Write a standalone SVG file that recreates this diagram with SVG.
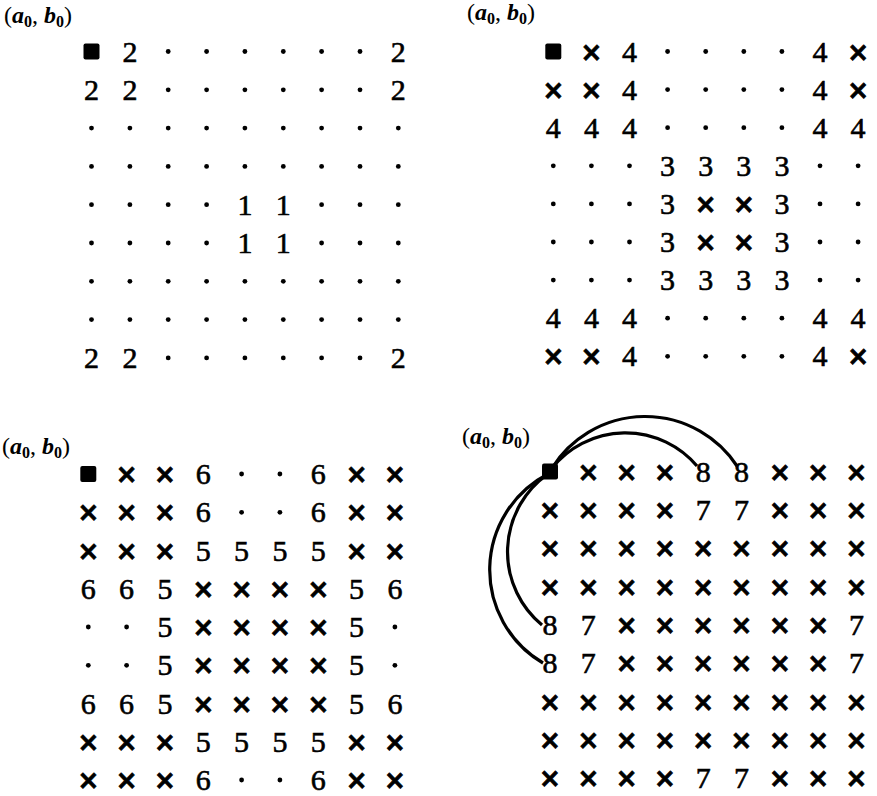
<svg xmlns="http://www.w3.org/2000/svg" xmlns:xlink="http://www.w3.org/1999/xlink" width="877" height="796" viewBox="0 0 877 796">
<style>
.d{font-family:"Liberation Serif",serif;font-size:30px;text-anchor:middle;fill:#000;stroke:#000;stroke-width:0.6px}
.x{font-family:"DejaVu Sans",sans-serif;font-weight:bold;font-size:26px;text-anchor:middle;fill:#000;stroke:#000;stroke-width:0.8px}
.lb{font-family:"Liberation Serif",serif;font-size:24px;fill:#000}
.m{font-style:italic;font-weight:bold}
.s{font-size:16px;font-weight:bold}
.arc{fill:none;stroke:#000;stroke-width:3.2}
</style>
<defs>
<circle id="dot" r="2.4" fill="#000"/>
<rect id="sq" x="-8" y="-8" width="16" height="16" rx="2" fill="#000"/>
</defs>
<rect width="877" height="796" fill="#fff"/>

<g id="panel1">
<text class="lb" x="4" y="23">(<tspan class="m">a</tspan><tspan class="s" dy="4">0</tspan><tspan dy="-4">, </tspan><tspan class="m">b</tspan><tspan class="s" dy="4">0</tspan><tspan dy="-4">)</tspan></text>
<g transform="translate(0,51.5)"><use xlink:href="#sq" x="91.5"/><text class="d" x="129.9" y="10">2</text><use xlink:href="#dot" x="168.2"/><use xlink:href="#dot" x="206.6"/><use xlink:href="#dot" x="244.9"/><use xlink:href="#dot" x="283.3"/><use xlink:href="#dot" x="321.6"/><use xlink:href="#dot" x="360"/><text class="d" x="398.3" y="10">2</text></g>
<g transform="translate(0,89.8)"><text class="d" x="91.5" y="10">2</text><text class="d" x="129.9" y="10">2</text><use xlink:href="#dot" x="168.2"/><use xlink:href="#dot" x="206.6"/><use xlink:href="#dot" x="244.9"/><use xlink:href="#dot" x="283.3"/><use xlink:href="#dot" x="321.6"/><use xlink:href="#dot" x="360"/><text class="d" x="398.3" y="10">2</text></g>
<g transform="translate(0,128.1)"><use xlink:href="#dot" x="91.5"/><use xlink:href="#dot" x="129.9"/><use xlink:href="#dot" x="168.2"/><use xlink:href="#dot" x="206.6"/><use xlink:href="#dot" x="244.9"/><use xlink:href="#dot" x="283.3"/><use xlink:href="#dot" x="321.6"/><use xlink:href="#dot" x="360"/><use xlink:href="#dot" x="398.3"/></g>
<g transform="translate(0,166.4)"><use xlink:href="#dot" x="91.5"/><use xlink:href="#dot" x="129.9"/><use xlink:href="#dot" x="168.2"/><use xlink:href="#dot" x="206.6"/><use xlink:href="#dot" x="244.9"/><use xlink:href="#dot" x="283.3"/><use xlink:href="#dot" x="321.6"/><use xlink:href="#dot" x="360"/><use xlink:href="#dot" x="398.3"/></g>
<g transform="translate(0,204.7)"><use xlink:href="#dot" x="91.5"/><use xlink:href="#dot" x="129.9"/><use xlink:href="#dot" x="168.2"/><use xlink:href="#dot" x="206.6"/><text class="d" x="244.9" y="10">1</text><text class="d" x="283.3" y="10">1</text><use xlink:href="#dot" x="321.6"/><use xlink:href="#dot" x="360"/><use xlink:href="#dot" x="398.3"/></g>
<g transform="translate(0,243)"><use xlink:href="#dot" x="91.5"/><use xlink:href="#dot" x="129.9"/><use xlink:href="#dot" x="168.2"/><use xlink:href="#dot" x="206.6"/><text class="d" x="244.9" y="10">1</text><text class="d" x="283.3" y="10">1</text><use xlink:href="#dot" x="321.6"/><use xlink:href="#dot" x="360"/><use xlink:href="#dot" x="398.3"/></g>
<g transform="translate(0,281.3)"><use xlink:href="#dot" x="91.5"/><use xlink:href="#dot" x="129.9"/><use xlink:href="#dot" x="168.2"/><use xlink:href="#dot" x="206.6"/><use xlink:href="#dot" x="244.9"/><use xlink:href="#dot" x="283.3"/><use xlink:href="#dot" x="321.6"/><use xlink:href="#dot" x="360"/><use xlink:href="#dot" x="398.3"/></g>
<g transform="translate(0,319.6)"><use xlink:href="#dot" x="91.5"/><use xlink:href="#dot" x="129.9"/><use xlink:href="#dot" x="168.2"/><use xlink:href="#dot" x="206.6"/><use xlink:href="#dot" x="244.9"/><use xlink:href="#dot" x="283.3"/><use xlink:href="#dot" x="321.6"/><use xlink:href="#dot" x="360"/><use xlink:href="#dot" x="398.3"/></g>
<g transform="translate(0,357.9)"><text class="d" x="91.5" y="10">2</text><text class="d" x="129.9" y="10">2</text><use xlink:href="#dot" x="168.2"/><use xlink:href="#dot" x="206.6"/><use xlink:href="#dot" x="244.9"/><use xlink:href="#dot" x="283.3"/><use xlink:href="#dot" x="321.6"/><use xlink:href="#dot" x="360"/><text class="d" x="398.3" y="10">2</text></g>
</g>

<g id="panel2">
<text class="lb" x="467" y="19.5">(<tspan class="m">a</tspan><tspan class="s" dy="4">0</tspan><tspan dy="-4">, </tspan><tspan class="m">b</tspan><tspan class="s" dy="4">0</tspan><tspan dy="-4">)</tspan></text>
<g transform="translate(0,51.5)"><use xlink:href="#sq" x="553.3"/><text class="x" x="591.4" y="9">×</text><text class="d" x="629.5" y="10">4</text><use xlink:href="#dot" x="667.6"/><use xlink:href="#dot" x="705.7"/><use xlink:href="#dot" x="743.8"/><use xlink:href="#dot" x="781.9"/><text class="d" x="820" y="10">4</text><text class="x" x="858.1" y="9">×</text></g>
<g transform="translate(0,89.6)"><text class="x" x="553.3" y="9">×</text><text class="x" x="591.4" y="9">×</text><text class="d" x="629.5" y="10">4</text><use xlink:href="#dot" x="667.6"/><use xlink:href="#dot" x="705.7"/><use xlink:href="#dot" x="743.8"/><use xlink:href="#dot" x="781.9"/><text class="d" x="820" y="10">4</text><text class="x" x="858.1" y="9">×</text></g>
<g transform="translate(0,127.7)"><text class="d" x="553.3" y="10">4</text><text class="d" x="591.4" y="10">4</text><text class="d" x="629.5" y="10">4</text><use xlink:href="#dot" x="667.6"/><use xlink:href="#dot" x="705.7"/><use xlink:href="#dot" x="743.8"/><use xlink:href="#dot" x="781.9"/><text class="d" x="820" y="10">4</text><text class="d" x="858.1" y="10">4</text></g>
<g transform="translate(0,165.8)"><use xlink:href="#dot" x="553.3"/><use xlink:href="#dot" x="591.4"/><use xlink:href="#dot" x="629.5"/><text class="d" x="667.6" y="10">3</text><text class="d" x="705.7" y="10">3</text><text class="d" x="743.8" y="10">3</text><text class="d" x="781.9" y="10">3</text><use xlink:href="#dot" x="820"/><use xlink:href="#dot" x="858.1"/></g>
<g transform="translate(0,203.9)"><use xlink:href="#dot" x="553.3"/><use xlink:href="#dot" x="591.4"/><use xlink:href="#dot" x="629.5"/><text class="d" x="667.6" y="10">3</text><text class="x" x="705.7" y="9">×</text><text class="x" x="743.8" y="9">×</text><text class="d" x="781.9" y="10">3</text><use xlink:href="#dot" x="820"/><use xlink:href="#dot" x="858.1"/></g>
<g transform="translate(0,242)"><use xlink:href="#dot" x="553.3"/><use xlink:href="#dot" x="591.4"/><use xlink:href="#dot" x="629.5"/><text class="d" x="667.6" y="10">3</text><text class="x" x="705.7" y="9">×</text><text class="x" x="743.8" y="9">×</text><text class="d" x="781.9" y="10">3</text><use xlink:href="#dot" x="820"/><use xlink:href="#dot" x="858.1"/></g>
<g transform="translate(0,280.1)"><use xlink:href="#dot" x="553.3"/><use xlink:href="#dot" x="591.4"/><use xlink:href="#dot" x="629.5"/><text class="d" x="667.6" y="10">3</text><text class="d" x="705.7" y="10">3</text><text class="d" x="743.8" y="10">3</text><text class="d" x="781.9" y="10">3</text><use xlink:href="#dot" x="820"/><use xlink:href="#dot" x="858.1"/></g>
<g transform="translate(0,318.2)"><text class="d" x="553.3" y="10">4</text><text class="d" x="591.4" y="10">4</text><text class="d" x="629.5" y="10">4</text><use xlink:href="#dot" x="667.6"/><use xlink:href="#dot" x="705.7"/><use xlink:href="#dot" x="743.8"/><use xlink:href="#dot" x="781.9"/><text class="d" x="820" y="10">4</text><text class="d" x="858.1" y="10">4</text></g>
<g transform="translate(0,356.3)"><text class="x" x="553.3" y="9">×</text><text class="x" x="591.4" y="9">×</text><text class="d" x="629.5" y="10">4</text><use xlink:href="#dot" x="667.6"/><use xlink:href="#dot" x="705.7"/><use xlink:href="#dot" x="743.8"/><use xlink:href="#dot" x="781.9"/><text class="d" x="820" y="10">4</text><text class="x" x="858.1" y="9">×</text></g>
</g>

<g id="panel3">
<text class="lb" x="2" y="454">(<tspan class="m">a</tspan><tspan class="s" dy="4">0</tspan><tspan dy="-4">, </tspan><tspan class="m">b</tspan><tspan class="s" dy="4">0</tspan><tspan dy="-4">)</tspan></text>
<g transform="translate(0,474)"><use xlink:href="#sq" x="88.3"/><text class="x" x="126.6" y="9">×</text><text class="x" x="164.9" y="9">×</text><text class="d" x="203.3" y="10">6</text><use xlink:href="#dot" x="241.6"/><use xlink:href="#dot" x="279.9"/><text class="d" x="318.3" y="10">6</text><text class="x" x="356.6" y="9">×</text><text class="x" x="394.9" y="9">×</text></g>
<g transform="translate(0,512.3)"><text class="x" x="88.3" y="9">×</text><text class="x" x="126.6" y="9">×</text><text class="x" x="164.9" y="9">×</text><text class="d" x="203.3" y="10">6</text><use xlink:href="#dot" x="241.6"/><use xlink:href="#dot" x="279.9"/><text class="d" x="318.3" y="10">6</text><text class="x" x="356.6" y="9">×</text><text class="x" x="394.9" y="9">×</text></g>
<g transform="translate(0,550.5)"><text class="x" x="88.3" y="9">×</text><text class="x" x="126.6" y="9">×</text><text class="x" x="164.9" y="9">×</text><text class="d" x="203.3" y="10">5</text><text class="d" x="241.6" y="10">5</text><text class="d" x="279.9" y="10">5</text><text class="d" x="318.3" y="10">5</text><text class="x" x="356.6" y="9">×</text><text class="x" x="394.9" y="9">×</text></g>
<g transform="translate(0,588.8)"><text class="d" x="88.3" y="10">6</text><text class="d" x="126.6" y="10">6</text><text class="d" x="164.9" y="10">5</text><text class="x" x="203.3" y="9">×</text><text class="x" x="241.6" y="9">×</text><text class="x" x="279.9" y="9">×</text><text class="x" x="318.3" y="9">×</text><text class="d" x="356.6" y="10">5</text><text class="d" x="394.9" y="10">6</text></g>
<g transform="translate(0,627)"><use xlink:href="#dot" x="88.3"/><use xlink:href="#dot" x="126.6"/><text class="d" x="164.9" y="10">5</text><text class="x" x="203.3" y="9">×</text><text class="x" x="241.6" y="9">×</text><text class="x" x="279.9" y="9">×</text><text class="x" x="318.3" y="9">×</text><text class="d" x="356.6" y="10">5</text><use xlink:href="#dot" x="394.9"/></g>
<g transform="translate(0,665.3)"><use xlink:href="#dot" x="88.3"/><use xlink:href="#dot" x="126.6"/><text class="d" x="164.9" y="10">5</text><text class="x" x="203.3" y="9">×</text><text class="x" x="241.6" y="9">×</text><text class="x" x="279.9" y="9">×</text><text class="x" x="318.3" y="9">×</text><text class="d" x="356.6" y="10">5</text><use xlink:href="#dot" x="394.9"/></g>
<g transform="translate(0,703.5)"><text class="d" x="88.3" y="10">6</text><text class="d" x="126.6" y="10">6</text><text class="d" x="164.9" y="10">5</text><text class="x" x="203.3" y="9">×</text><text class="x" x="241.6" y="9">×</text><text class="x" x="279.9" y="9">×</text><text class="x" x="318.3" y="9">×</text><text class="d" x="356.6" y="10">5</text><text class="d" x="394.9" y="10">6</text></g>
<g transform="translate(0,741.8)"><text class="x" x="88.3" y="9">×</text><text class="x" x="126.6" y="9">×</text><text class="x" x="164.9" y="9">×</text><text class="d" x="203.3" y="10">5</text><text class="d" x="241.6" y="10">5</text><text class="d" x="279.9" y="10">5</text><text class="d" x="318.3" y="10">5</text><text class="x" x="356.6" y="9">×</text><text class="x" x="394.9" y="9">×</text></g>
<g transform="translate(0,780)"><text class="x" x="88.3" y="9">×</text><text class="x" x="126.6" y="9">×</text><text class="x" x="164.9" y="9">×</text><text class="d" x="203.3" y="10">6</text><use xlink:href="#dot" x="241.6"/><use xlink:href="#dot" x="279.9"/><text class="d" x="318.3" y="10">6</text><text class="x" x="356.6" y="9">×</text><text class="x" x="394.9" y="9">×</text></g>
</g>

<g id="panel4">
<text class="lb" x="462" y="444">(<tspan class="m">a</tspan><tspan class="s" dy="4">0</tspan><tspan dy="-4">, </tspan><tspan class="m">b</tspan><tspan class="s" dy="4">0</tspan><tspan dy="-4">)</tspan></text>
<g transform="translate(0,471.5)"><use id="origin4" xlink:href="#sq" x="550"/><text class="x" x="588.3" y="9">×</text><text class="x" x="626.6" y="9">×</text><text class="x" x="664.9" y="9">×</text><text class="d" x="703.2" y="10">8</text><text class="d" x="741.5" y="10">8</text><text class="x" x="779.8" y="9">×</text><text class="x" x="818.1" y="9">×</text><text class="x" x="856.4" y="9">×</text></g>
<g transform="translate(0,509.9)"><text class="x" x="550" y="9">×</text><text class="x" x="588.3" y="9">×</text><text class="x" x="626.6" y="9">×</text><text class="x" x="664.9" y="9">×</text><text class="d" x="703.2" y="10">7</text><text class="d" x="741.5" y="10">7</text><text class="x" x="779.8" y="9">×</text><text class="x" x="818.1" y="9">×</text><text class="x" x="856.4" y="9">×</text></g>
<g transform="translate(0,548.2)"><text class="x" x="550" y="9">×</text><text class="x" x="588.3" y="9">×</text><text class="x" x="626.6" y="9">×</text><text class="x" x="664.9" y="9">×</text><text class="x" x="703.2" y="9">×</text><text class="x" x="741.5" y="9">×</text><text class="x" x="779.8" y="9">×</text><text class="x" x="818.1" y="9">×</text><text class="x" x="856.4" y="9">×</text></g>
<g transform="translate(0,586.6)"><text class="x" x="550" y="9">×</text><text class="x" x="588.3" y="9">×</text><text class="x" x="626.6" y="9">×</text><text class="x" x="664.9" y="9">×</text><text class="x" x="703.2" y="9">×</text><text class="x" x="741.5" y="9">×</text><text class="x" x="779.8" y="9">×</text><text class="x" x="818.1" y="9">×</text><text class="x" x="856.4" y="9">×</text></g>
<g transform="translate(0,624.9)"><text class="d" x="550" y="10">8</text><text class="d" x="588.3" y="10">7</text><text class="x" x="626.6" y="9">×</text><text class="x" x="664.9" y="9">×</text><text class="x" x="703.2" y="9">×</text><text class="x" x="741.5" y="9">×</text><text class="x" x="779.8" y="9">×</text><text class="x" x="818.1" y="9">×</text><text class="d" x="856.4" y="10">7</text></g>
<g transform="translate(0,663.3)"><text class="d" x="550" y="10">8</text><text class="d" x="588.3" y="10">7</text><text class="x" x="626.6" y="9">×</text><text class="x" x="664.9" y="9">×</text><text class="x" x="703.2" y="9">×</text><text class="x" x="741.5" y="9">×</text><text class="x" x="779.8" y="9">×</text><text class="x" x="818.1" y="9">×</text><text class="d" x="856.4" y="10">7</text></g>
<g transform="translate(0,701.6)"><text class="x" x="550" y="9">×</text><text class="x" x="588.3" y="9">×</text><text class="x" x="626.6" y="9">×</text><text class="x" x="664.9" y="9">×</text><text class="x" x="703.2" y="9">×</text><text class="x" x="741.5" y="9">×</text><text class="x" x="779.8" y="9">×</text><text class="x" x="818.1" y="9">×</text><text class="x" x="856.4" y="9">×</text></g>
<g transform="translate(0,740)"><text class="x" x="550" y="9">×</text><text class="x" x="588.3" y="9">×</text><text class="x" x="626.6" y="9">×</text><text class="x" x="664.9" y="9">×</text><text class="x" x="703.2" y="9">×</text><text class="x" x="741.5" y="9">×</text><text class="x" x="779.8" y="9">×</text><text class="x" x="818.1" y="9">×</text><text class="x" x="856.4" y="9">×</text></g>
<g transform="translate(0,778.3)"><text class="x" x="550" y="9">×</text><text class="x" x="588.3" y="9">×</text><text class="x" x="626.6" y="9">×</text><text class="x" x="664.9" y="9">×</text><text class="d" x="703.2" y="10">7</text><text class="d" x="741.5" y="10">7</text><text class="x" x="779.8" y="9">×</text><text class="x" x="818.1" y="9">×</text><text class="x" x="856.4" y="9">×</text></g>
</g>

<g id="connectors">
<path class="arc" d="M552,468 A110,110 0 0 1 737,466"/>
<path class="arc" d="M552,468 A94,94 0 0 1 697,466"/>
<path class="arc" d="M548,474 A108,108 0 0 0 543,663"/>
<path class="arc" d="M548,474 A95,95 0 0 0 542,625"/>
</g>
</svg>
